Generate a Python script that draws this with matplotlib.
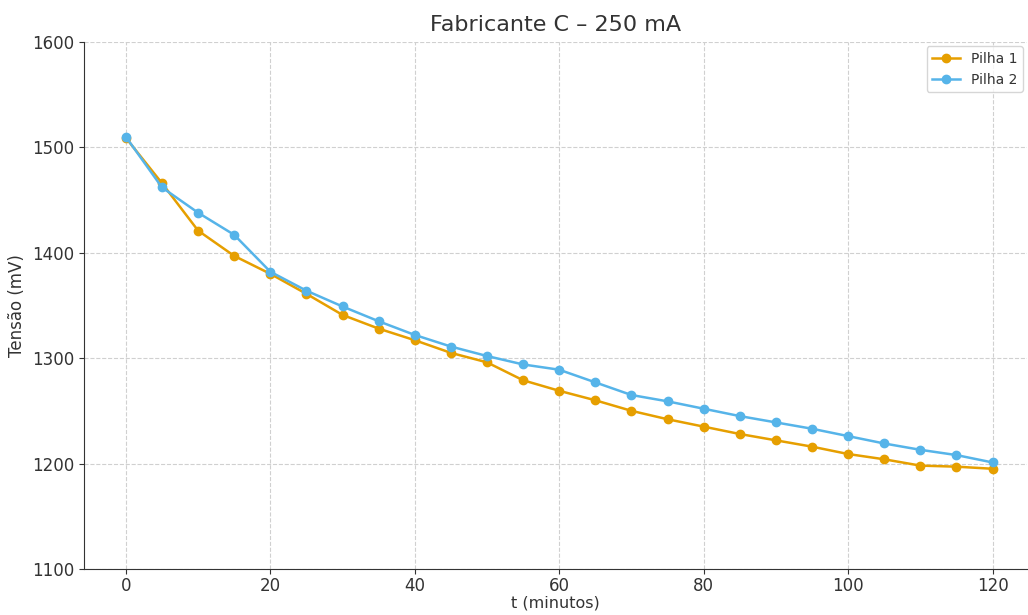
import matplotlib

matplotlib.use("Agg")
import matplotlib.pyplot as plt

tempo = [0, 5, 10, 15, 20, 25, 30, 35, 40, 45, 50, 55, 60,
         65, 70, 75, 80, 85, 90, 95, 100, 105, 110, 115, 120]
pilha_1 = [1509, 1466, 1421, 1397, 1380, 1361, 1341, 1328, 1317, 1305, 1296, 1279, 1269,
           1260, 1250, 1242, 1235, 1228, 1222, 1216, 1209, 1204, 1198, 1197, 1195]
pilha_2 = [1510, 1462, 1438, 1417, 1382, 1364, 1349, 1335, 1322, 1311, 1302, 1294, 1289,
           1277, 1265, 1259, 1252, 1245, 1239, 1233, 1226, 1219, 1213, 1208, 1201]
y_ticks = [1100, 1200, 1300, 1400, 1500, 1600]
x_ticks = [0, 20, 40, 60, 80, 100, 120]

plt.rcParams["font.family"] = ["DejaVu Sans"]
text_color = "#333333"

fig = plt.figure(figsize=(10.28, 6.15), dpi=100)
ax = fig.add_axes([0.0817, 0.0750, 0.9175, 0.8567])

ax.plot(tempo, pilha_1, color="#E69F00", marker="o", markersize=6, linewidth=1.8, label="Pilha 1")
ax.plot(tempo, pilha_2, color="#56B4E9", marker="o", markersize=6, linewidth=1.8, label="Pilha 2")

ax.set_xlim(-5.8, 124.8)
ax.set_ylim(1100, 1600)
ax.set_xticks(x_ticks)
ax.set_yticks(y_ticks)
ax.grid(True, linestyle="--", color="#d0d0d0", linewidth=0.8)
ax.set_axisbelow(True)

for side in ["top", "right"]:
    ax.spines[side].set_visible(False)
for side in ["left", "bottom"]:
    ax.spines[side].set_color(text_color)
ax.tick_params(labelsize=12, colors=text_color)
ax.tick_params(axis="x", pad=2.5)

ax.set_title("Fabricante C – 250 mA", fontsize=16, color=text_color, pad=8)
ax.set_xlabel("t (minutos)", fontsize=11.5, color=text_color, labelpad=0)
ax.set_ylabel("Tensão (mV)", fontsize=12, color=text_color)

leg = ax.legend(loc="upper right", fontsize=10, frameon=True, borderaxespad=0.3)
for txt in leg.get_texts():
    txt.set_color(text_color)

fig.savefig("out.png", dpi=100)
